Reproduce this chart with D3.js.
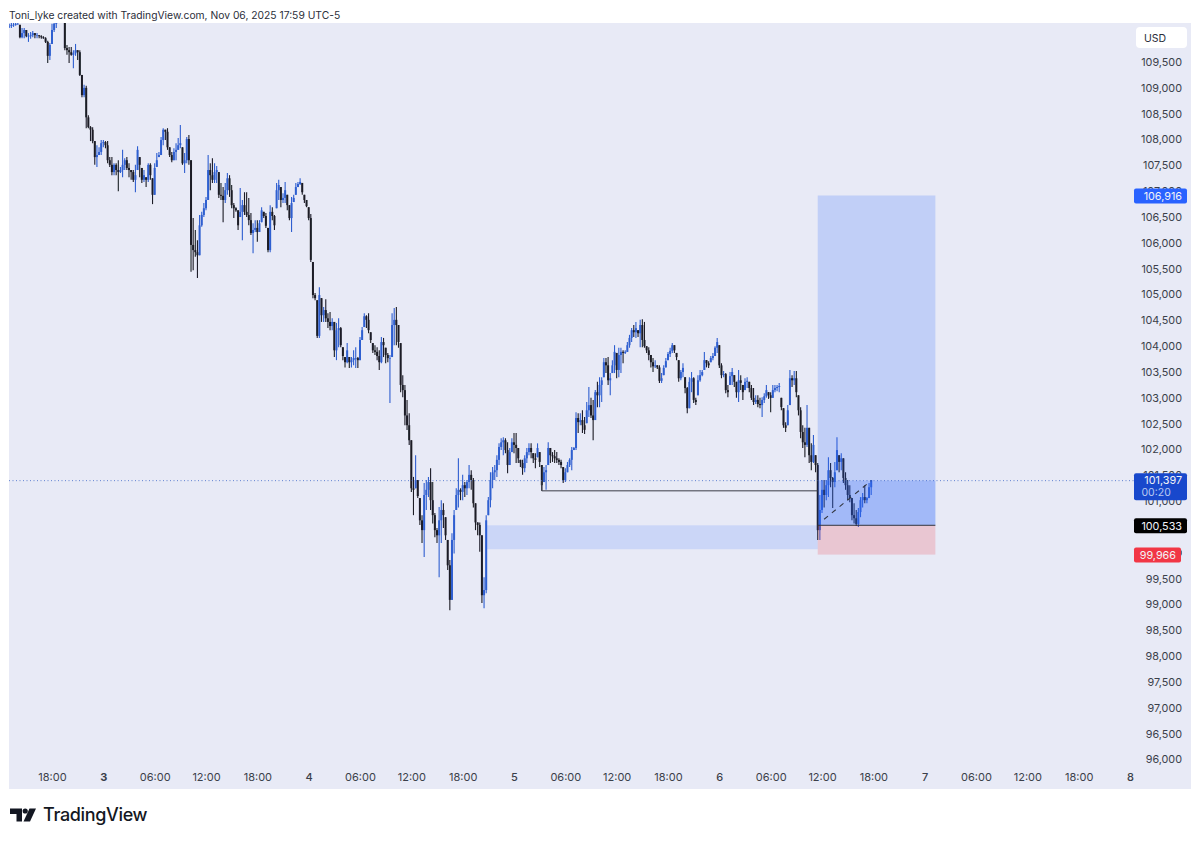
<!DOCTYPE html>
<html>
<head>
<meta charset="utf-8">
<script src="https://d3js.org/d3.v7.min.js"></script>
<style>
  html, body { margin: 0; padding: 0; background: #fff; }
  svg { display: block; }
  text { font-family: Inter, "Noto Sans", sans-serif; }
</style>
</head>
<body>
<div id="chartArea"></div>
<script>
// 15 minute bars, the first one opens Nov 2 2025 13:00
const firstBar = Date.UTC(2025, 10, 2, 13, 0);
const barMs = 15 * 60 * 1000;

const highs = [
110220,110240,110240,110240,110240,110200,110140,110140,110100,110040,
110060,110080,110040,110040,110000,110000,109980,109960,109890,109850,
110220,110240,110270,110390,110410,110450,110410,109810,109770,109770,
109710,109830,109710,109710,109230,109040,109020,108450,108240,108220,
107950,107870,107830,107970,107970,107950,107950,107640,107640,107520,
107520,107580,107450,107780,107620,107640,107520,107390,107390,107490,
107850,107640,107430,107390,107250,107520,107520,107230,107520,107720,
107740,108030,108200,108170,108200,107830,107740,107810,107910,108010,
108260,107830,107720,108030,108070,107580,106460,106230,106030,106520,
106580,106750,106870,107680,107520,107620,107520,107470,107350,107140,
107060,107140,107330,107290,107100,106750,106670,106610,107040,106810,
106960,106960,106850,106560,106360,106420,106420,106420,106670,106580,
106560,106270,106710,106670,106520,107140,107200,107060,106940,107160,
106910,106710,106870,106910,107140,107160,107230,107140,106910,106810,
106670,106540,105610,105010,104870,105120,104910,104740,104890,104620,
104640,104520,104450,104430,104520,104350,103960,103770,104040,103770,
103770,103900,103960,103770,104160,104350,104620,104580,104620,104250,
104040,104000,103960,103900,104160,104140,103950,103850,103810,104620,
104720,104740,104390,104040,103420,103230,102940,102680,102160,101450,
101870,101390,101040,100710,101330,101390,101450,101620,101350,100750,
100460,100870,101000,100940,100670,100230,99840,100360,100810,101230,
101810,101230,101490,101350,101390,101680,101580,101430,100940,100570,
100570,100320,99510,100710,101060,101540,101640,101680,101870,102100,
102200,102220,102200,102120,102010,102200,102300,102300,102010,101780,
101780,101870,102010,102100,102100,101910,101910,102100,101930,101680,
101640,101680,102120,102010,101930,101970,101930,101810,101780,101640,
101620,101740,101810,102030,102030,102700,102680,102680,102740,102610,
102900,103190,102980,102940,103130,103290,103380,103380,103750,103750,
103770,103460,103710,104000,103850,103950,103950,103900,103900,104060,
104200,104330,104390,104450,104290,104490,104500,104450,103980,103960,
103810,103750,103710,103610,103610,103460,103610,103750,103870,103950,
104040,104000,103850,103710,103520,103650,103380,103190,103380,103480,
103380,102980,103420,103520,103520,103870,103710,103690,103790,103850,
103980,104140,104000,103650,103500,103460,103230,103480,103560,103420,
103290,103520,103420,103230,103360,103380,103290,103230,103170,103030,
103030,102980,102990,103070,103230,103090,103090,103230,103230,103230,
103270,102980,102780,102510,102840,103520,103420,103500,103500,103030,
102800,102450,102400,102840,102400,102100,102260,101870,101720,101100,
101390,101390,101390,101830,101720,101450,101740,102220,101870,101910,
101810,101540,101390,101290,101040,100940,100810,100850,101060,101140,
101290,101060,101330,101390];

const lows = [
110140,110140,110160,110180,110200,109940,109940,109940,109960,109870,
109930,109960,109940,109940,109940,109930,109930,109850,109460,109520,
109830,110060,110140,110250,110270,110290,109710,109620,109460,109600,
109360,109600,109520,109210,108800,108800,108200,108200,107950,107910,
107490,107450,107680,107680,107830,107810,107520,107450,107290,107290,
107290,106980,107330,107250,107390,107390,107250,107200,107160,106960,
107390,107250,107140,107160,107060,107160,107200,106730,106910,107450,
107640,107680,107870,107970,107780,107640,107540,107580,107580,107780,
107810,107490,107330,107520,107490,105420,105450,105710,105300,105740,
106290,106480,106610,106810,107000,107140,107140,107140,106850,106810,
106380,106750,106910,106870,106650,106460,106580,106230,106480,106030,
106520,106480,106320,106130,105780,106190,106000,106190,106380,106460,
106270,105800,105800,106420,106230,106650,106810,106670,106750,106750,
106610,106420,106190,106770,106910,107060,107100,106910,106750,106670,
106420,105610,104910,104870,104140,104140,104450,104450,104450,104330,
104290,104290,103770,103710,103960,103960,103710,103570,103650,103560,
103570,103610,103560,103560,103710,104100,104350,104330,104230,104040,
103850,103810,103710,103520,103650,103770,103650,103670,102880,103770,
104000,104000,103950,103090,102990,102450,102360,102070,101160,100710,
101230,101040,100520,100170,99900,100810,101060,100810,100550,100280,
100170,99510,100170,100460,100230,99650,98870,99070,99970,100810,
100860,101000,101000,101060,101100,101230,101200,100860,100420,100320,
100000,99010,98910,99200,100710,100860,101230,101390,101450,101680,
101970,101870,101910,101520,101680,101930,101910,101720,101720,101640,
101490,101540,101720,101870,101810,101720,101620,101830,101640,101180,
101350,101200,101680,101720,101740,101720,101720,101680,101620,101330,
101350,101540,101640,101580,101970,101970,102300,102450,102300,102280,
102490,102610,102590,102160,102550,102800,102800,102900,103380,103460,
103230,103030,103460,103460,103360,103380,103460,103650,103830,103870,
103950,104060,104160,104140,104160,103960,103960,103950,103850,103710,
103570,103480,103560,103540,103270,103270,103420,103570,103710,103770,
103850,103850,103710,103290,103320,103380,103070,102680,102780,103090,
102880,102840,103030,103290,103400,103520,103570,103560,103670,103710,
103790,103850,103560,103360,103380,103070,102990,103230,103230,103190,
102980,102900,103130,102940,103130,103170,103090,102940,102840,102860,
102800,102780,102610,102880,102980,102960,102700,102980,103090,103110,
103090,102740,102400,102320,102450,102840,103190,103230,102990,102640,
102200,102010,101830,102030,101720,101580,101720,101540,100230,100230,
100750,100860,101000,101060,101250,100850,101250,101580,101540,101580,
101330,101200,101000,100960,100610,100550,100500,100480,100670,100860,
100940,100940,101040,101100];

const closes = [
110180,110200,110200,110220,110220,109960,110040,110100,109980,109980,
110000,110040,110000,110000,109980,109960,109940,109870,109600,109810,
110100,110220,110250,110330,110370,110390,109750,109710,109670,109620,
109650,109710,109670,109230,108840,108980,108410,108220,108170,107950,
107640,107680,107740,107910,107930,107870,107580,107490,107350,107490,
107390,107350,107390,107490,107580,107430,107390,107350,107200,107290,
107780,107490,107200,107290,107200,107490,107290,106910,107430,107580,
107680,107970,108170,108130,107830,107680,107580,107740,107780,107870,
107910,107520,107580,107990,107580,105940,105840,105800,105740,106320,
106520,106650,106810,107390,107290,107200,107350,107390,106910,106890,
106810,107000,107230,107000,106710,106650,106610,106320,106580,106710,
106580,106520,106420,106170,106230,106270,106190,106360,106610,106500,
106310,105840,106580,106500,106320,107000,107100,106810,106850,107000,
106710,106460,106750,106850,107060,107120,107160,106960,106810,106690,
106460,105650,104970,104910,104180,104970,104580,104680,104520,104450,
104370,104450,103900,104290,104330,104000,103790,103670,103900,103670,
103710,103750,103750,103710,104100,104290,104560,104490,104290,104100,
103900,103870,103790,103670,104060,104000,103810,103750,103750,104390,
104490,104390,104060,103230,103130,102640,102450,102160,101230,101200,
101390,101080,100610,100420,101100,101200,101350,101000,100710,100420,
100320,100610,100810,100710,100320,99740,99070,100230,100710,101100,
101200,101160,101290,101230,101350,101490,101390,100940,100570,100520,
100320,99160,99260,100610,101000,101390,101540,101580,101780,102030,
102120,102160,101970,101680,101930,102120,102070,102010,101810,101720,
101620,101810,101930,102010,101930,101810,101780,102010,101740,101290,
101540,101580,102010,101870,101850,101810,101780,101740,101680,101390,
101540,101680,101780,101970,102010,102590,102510,102550,102450,102360,
102740,102840,102640,102550,103090,103030,103230,103320,103670,103610,
103320,103360,103610,103870,103520,103810,103870,103850,103870,104000,
104140,104290,104250,104330,104230,104390,104100,103980,103900,103810,
103670,103590,103610,103570,103310,103360,103560,103690,103830,103890,
104000,103900,103770,103360,103480,103560,103170,102780,103290,103360,
102940,102900,103320,103420,103480,103710,103650,103610,103750,103790,
103950,104060,103610,103420,103440,103130,103090,103400,103480,103290,
103090,103320,103270,103090,103290,103310,103170,102980,102900,102940,
102860,102840,102940,103010,103130,103030,102980,103130,103170,103190,
103210,102800,102450,102400,102740,103360,103320,103360,103090,102740,
102320,102120,102070,102400,101870,101740,102070,101680,100420,100810,
101200,101100,101290,101580,101430,101350,101540,101970,101740,101810,
101430,101290,101100,101040,100710,100650,100540,100770,101000,101060,
101000,101040,101250,101397];

const priceTicks = d3.range(96000, 110000, 500);
const timeTicks = d3.range(0, 22).map(i => new Date(Date.UTC(2025, 10, 2, 18 + i * 6)));

const lastPrice = 101397;
const entryPrice = 100533;
const targetPrice = 106916;
const stopPrice = 99966;
const zoneTop = 100533;
const zoneBottom = 100070;
const levelPrice = 101200;

const w = 1200;
const h = 841;
const plot = {left: 9, right: 1191, top: 23, bottom: 789};

const x = d3.scaleUtc()
    .domain([Date.UTC(2025, 10, 2, 18), Date.UTC(2025, 10, 8)])
    .range([52, 1130]);

const y = d3.scaleLinear()
    .domain([96000, 109500])
    .range([759.5, 62]);

const bars = closes.map((c, i) => ({
    t: firstBar + i * barMs,
    open: i === 0 ? c : closes[i - 1],
    close: c,
    high: highs[i],
    low: lows[i]
}));

const upColor = "#2f5fd0";
const downColor = "#1c1d26";

const svg = d3.select("#chartArea")
    .append("svg")
    .attr("width", w)
    .attr("height", h);

// the screenshot is a little soft, same for the bars
const soft = svg.append("filter").attr("id", "soft");
soft.append("feGaussianBlur").attr("stdDeviation", 0.3);

svg.append("text")
    .attr("x", 9)
    .attr("y", 19)
    .attr("font-size", 10.3)
    .attr("fill", "#2a2e39")
    .text("Toni_lyke created with TradingView.com, Nov 06, 2025 17:59 UTC-5");

svg.append("rect")
    .attr("x", plot.left)
    .attr("y", plot.top)
    .attr("width", plot.right - plot.left)
    .attr("height", plot.bottom - plot.top)
    .attr("fill", "#e8eaf6");

svg.append("clipPath")
    .attr("id", "plotClip")
    .append("rect")
    .attr("x", plot.left)
    .attr("y", plot.top)
    .attr("width", plot.right - plot.left)
    .attr("height", plot.bottom - plot.top);

const chart = svg.append("g").attr("clip-path", "url(#plotClip)");

// bars
const barG = chart.append("g")
    .attr("transform", "translate(0,-1)")
    .attr("filter", "url(#soft)");

barG.selectAll("line.wick")
    .data(bars)
    .enter()
    .append("line")
    .attr("class", "wick")
    .attr("x1", d => x(d.t))
    .attr("x2", d => x(d.t))
    .attr("y1", d => y(d.high))
    .attr("y2", d => y(d.low))
    .attr("stroke", d => d.close >= d.open ? upColor : downColor)
    .attr("stroke-width", 1.1);

barG.selectAll("rect.body")
    .data(bars)
    .enter()
    .append("rect")
    .attr("class", "body")
    .attr("x", d => x(d.t) - 1)
    .attr("width", 2)
    .attr("y", d => y(Math.min(d.high, Math.max(d.open, d.close))))
    .attr("height", d => {
        const top = Math.min(d.high, Math.max(d.open, d.close));
        const bottom = Math.max(d.low, Math.min(d.open, d.close));
        return Math.max(0.6, y(bottom) - y(top));
    })
    .attr("fill", d => d.close >= d.open ? upColor : downColor);

// drawings on top of the bars
const zoneStart = Date.UTC(2025, 10, 4, 20, 45);
const posStart = Date.UTC(2025, 10, 6, 11, 30);
const posEnd = Date.UTC(2025, 10, 7, 1, 15);
const levelStart = Date.UTC(2025, 10, 5, 3, 15);

chart.append("rect")
    .attr("x", x(zoneStart))
    .attr("width", x(posStart) - x(zoneStart))
    .attr("y", y(zoneTop))
    .attr("height", y(zoneBottom) - y(zoneTop))
    .attr("fill", "rgba(41,98,255,0.15)");

chart.append("rect")
    .attr("x", x(posStart))
    .attr("width", x(posEnd) - x(posStart))
    .attr("y", y(targetPrice))
    .attr("height", y(entryPrice) - y(targetPrice))
    .attr("fill", "rgba(41,98,255,0.2)");

chart.append("rect")
    .attr("x", x(posStart))
    .attr("width", x(posEnd) - x(posStart))
    .attr("y", y(lastPrice))
    .attr("height", y(entryPrice) - y(lastPrice))
    .attr("fill", "rgba(41,98,255,0.2)");

chart.append("rect")
    .attr("x", x(posStart))
    .attr("width", x(posEnd) - x(posStart))
    .attr("y", y(entryPrice))
    .attr("height", y(stopPrice) - y(entryPrice))
    .attr("fill", "rgba(242,54,69,0.2)");

chart.append("line")
    .attr("x1", x(posStart))
    .attr("x2", x(posEnd))
    .attr("y1", y(entryPrice))
    .attr("y2", y(entryPrice))
    .attr("stroke", "#33363f")
    .attr("stroke-width", 1);

// level line with its small left tick
chart.append("path")
    .attr("d", d3.line()([
        [x(levelStart), y(101400)],
        [x(levelStart), y(levelPrice)],
        [x(posStart), y(levelPrice)]
    ]))
    .attr("fill", "none")
    .attr("stroke", "#3a3c46")
    .attr("stroke-width", 1);

// dashed trade path
chart.append("line")
    .attr("x1", x(Date.UTC(2025, 10, 6, 12, 15)))
    .attr("x2", x(Date.UTC(2025, 10, 6, 17, 45)))
    .attr("y1", y(100650))
    .attr("y2", y(lastPrice))
    .attr("stroke", "#33363f")
    .attr("stroke-width", 1.1)
    .attr("stroke-dasharray", "5 5");

// last price line
chart.append("line")
    .attr("x1", plot.left)
    .attr("x2", 1134)
    .attr("y1", y(lastPrice))
    .attr("y2", y(lastPrice))
    .attr("stroke", "#3f66c8")
    .attr("stroke-opacity", 0.8)
    .attr("stroke-width", 1)
    .attr("stroke-dasharray", "1 2.5");

// axes
const yAxis = d3.axisRight(y)
    .tickValues(priceTicks.filter(p => p <= 109500))
    .tickSize(0)
    .tickPadding(0)
    .tickFormat(d3.format(","));

const yAxisG = svg.append("g")
    .attr("transform", "translate(1182,0)")
    .call(yAxis);
yAxisG.select(".domain").remove();
yAxisG.selectAll("text")
    .attr("text-anchor", "end")
    .attr("font-family", "Inter")
    .attr("font-size", 10.8)
    .attr("fill", "#3b3f4a");

const xAxis = d3.axisBottom(x)
    .tickValues(timeTicks)
    .tickSize(0)
    .tickPadding(0)
    .tickFormat(d => d.getUTCHours() === 0 ? String(d.getUTCDate()) : d3.utcFormat("%H:%M")(d));

const xAxisG = svg.append("g")
    .attr("transform", "translate(0,773)")
    .call(xAxis);
xAxisG.select(".domain").remove();
xAxisG.selectAll("text")
    .attr("font-family", "Inter")
    .attr("font-size", 11)
    .attr("fill", "#3b3f4a")
    .attr("font-weight", d => d.getUTCHours() === 0 ? (d.getUTCDate() === 3 ? 700 : 500) : 400);

// USD button
svg.append("rect")
    .attr("x", 1136)
    .attr("y", 27)
    .attr("width", 51)
    .attr("height", 21)
    .attr("rx", 4)
    .attr("fill", "#fff");

svg.append("text")
    .attr("x", 1144)
    .attr("y", 42)
    .attr("font-size", 10.5)
    .attr("fill", "#2a2e39")
    .text("USD");

// price labels
function priceLabel(price, fill, labelW) {
    svg.append("rect")
        .attr("x", 1134)
        .attr("y", y(price) - 7)
        .attr("width", labelW)
        .attr("height", 15)
        .attr("rx", 2)
        .attr("fill", fill);
    svg.append("text")
        .attr("x", 1134 + labelW - 5)
        .attr("y", y(price) + 4.4)
        .attr("text-anchor", "end")
        .attr("font-size", 10.8)
        .attr("fill", "#f2f3f7")
        .text(d3.format(",")(price));
}

priceLabel(targetPrice, "#2962ff", 53);
priceLabel(entryPrice, "#000000", 53);

// a sliver of a hidden label shows behind the stop label
svg.append("rect")
    .attr("x", 1180)
    .attr("y", y(stopPrice) - 4)
    .attr("width", 1.5)
    .attr("height", 4)
    .attr("fill", "#3b3f4a");
priceLabel(stopPrice, "#f23645", 47);

svg.append("rect")
    .attr("x", 1134)
    .attr("y", y(lastPrice) - 7.5)
    .attr("width", 53)
    .attr("height", 27)
    .attr("rx", 2)
    .attr("fill", "#1848cc");

svg.append("text")
    .attr("x", 1182)
    .attr("y", y(lastPrice) + 3)
    .attr("text-anchor", "end")
    .attr("font-size", 10.8)
    .attr("fill", "#f2f3f7")
    .text(d3.format(",")(lastPrice));

svg.append("text")
    .attr("x", 1141.5)
    .attr("y", y(lastPrice) + 15)
    .attr("font-size", 10.5)
    .attr("fill", "#b8c8f2")
    .text("00:20");

// TradingView mark
const logo = svg.append("g").attr("fill", "#131722");
logo.append("path").attr("d", "M10 808.5h12v13h-5.5v-7.5H10z");
logo.append("circle").attr("cx", 25.2).attr("cy", 811).attr("r", 2.6);
logo.append("path").attr("d", "M29.5 808.5H36L30 821.5h-6.5z");

svg.append("text")
    .attr("x", 43)
    .attr("y", 821)
    .attr("font-size", 18)
    .attr("font-weight", 500)
    .attr("letter-spacing", -0.35)
    .attr("fill", "#131722")
    .text("TradingView");
</script>
</body>
</html>
